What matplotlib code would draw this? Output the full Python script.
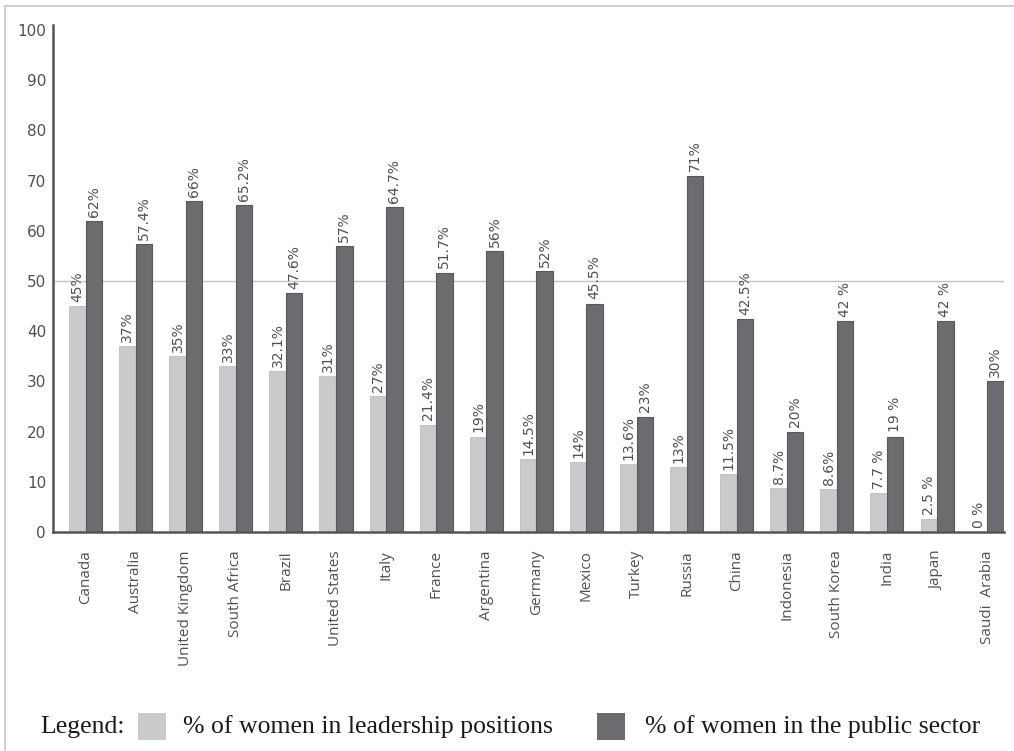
import matplotlib
matplotlib.use("Agg")
import matplotlib.pyplot as plt
from matplotlib.lines import Line2D
from matplotlib.patches import Rectangle
import numpy as np

countries = ["Canada", "Australia", "United Kingdom", "South Africa", "Brazil",
             "United States", "Italy", "France", "Argentina", "Germany", "Mexico",
             "Turkey", "Russia", "China", "Indonesia", "South Korea", "India",
             "Japan", "Saudi  Arabia"]
leadership = [45, 37, 35, 33, 32.1, 31, 27, 21.4, 19, 14.5, 14, 13.6, 13, 11.5,
              8.7, 8.6, 7.7, 2.5, 0]
public_sector = [62, 57.4, 66, 65.2, 47.6, 57, 64.7, 51.7, 56, 52, 45.5, 23, 71,
                 42.5, 20, 42, 19, 42, 30]
leadership_labels = ["45%", "37%", "35%", "33%", "32.1%", "31%", "27%", "21.4%",
                     "19%", "14.5%", "14%", "13.6%", "13%", "11.5%", "8.7%",
                     "8.6%", "7.7 %", "2.5 %", "0 %"]
public_labels = ["62%", "57.4%", "66%", "65.2%", "47.6%", "57%", "64.7%", "51.7%",
                 "56%", "52%", "45.5%", "23%", "71%", "42.5%", "20%", "42 %",
                 "19 %", "42 %", "30%"]
y_ticks = [0, 10, 20, 30, 40, 50, 60, 70, 80, 90, 100]
legend_names = ["% of women in leadership positions", "% of women in the public sector"]

LIGHT = "#c9cacc"
DARK = "#6c6c70"
TEXT = "#505050"

fig = plt.figure(figsize=(10.14, 7.51), dpi=100)
ax = fig.add_axes([0.0523, 0.2916, 0.938, 0.675])

x = np.arange(len(countries))
w = 0.33
ax.bar(x - w / 2, leadership, width=w, color=LIGHT, edgecolor="#bdbec0", linewidth=0.6, zorder=2)
ax.bar(x + w / 2, public_sector, width=w, color=DARK, edgecolor="#58585b", linewidth=0.8, zorder=2)

for xi, v, s in zip(x - w / 2, leadership, leadership_labels):
    ax.annotate(s, (xi, v), xytext=(0, 3), textcoords="offset points",
                rotation=90, ha="center", va="bottom", fontsize=10,
                color=TEXT, family="DejaVu Sans")
for xi, v, s in zip(x + w / 2, public_sector, public_labels):
    ax.annotate(s, (xi, v), xytext=(0, 3), textcoords="offset points",
                rotation=90, ha="center", va="bottom", fontsize=10,
                color=TEXT, family="DejaVu Sans")

# reference line at 50 %
ax.axhline(50, color="#c4c4c4", linewidth=1.0, zorder=1)

ax.set_xlim(-0.649, 18.34)
ax.set_ylim(0, 101)
ax.set_yticks(y_ticks)
ax.set_yticklabels([str(t) for t in y_ticks], fontsize=11, color=TEXT, family="DejaVu Sans")
ax.set_xticks(x)
ax.set_xticklabels(countries, rotation=90, fontsize=11, color=TEXT, family="Open Sans",
                   va="top")
ax.tick_params(axis="both", length=0)
ax.tick_params(axis="x", pad=13)
ax.tick_params(axis="y", pad=5)

for side in ("top", "right"):
    ax.spines[side].set_visible(False)
for side in ("left", "bottom"):
    ax.spines[side].set_color("#555555")
    ax.spines[side].set_linewidth(1.8)
    ax.spines[side].set_zorder(3)

# frame lines along the top and left edges of the figure
fig.add_artist(Line2D([5 / 1014, 1.0], [1 - 6 / 751, 1 - 6 / 751],
                      transform=fig.transFigure, color="#c8c8c8", linewidth=1.2))
fig.add_artist(Line2D([5 / 1014, 5 / 1014], [0.0, 1 - 6 / 751],
                      transform=fig.transFigure, color="#c8c8c8", linewidth=1.2))

# legend row
ly = 1 - 727 / 751
serif = "Liberation Serif"
fs = 18.5
fig.text(40 / 1014, ly, "Legend:", fontsize=fs, family=serif, color="#1a1a1a",
         ha="left", va="center")
fig.add_artist(Rectangle((138 / 1014, 1 - 740 / 751), 28 / 1014, 27 / 751,
                         transform=fig.transFigure, facecolor=LIGHT, edgecolor="none"))
fig.text(183 / 1014, ly, legend_names[0], fontsize=fs, family=serif, color="#1a1a1a",
         ha="left", va="center")
fig.add_artist(Rectangle((597 / 1014, 1 - 740 / 751), 28 / 1014, 27 / 751,
                         transform=fig.transFigure, facecolor=DARK, edgecolor="none"))
fig.text(645 / 1014, ly, legend_names[1], fontsize=fs, family=serif, color="#1a1a1a",
         ha="left", va="center")

fig.savefig("out.png", dpi=100, facecolor="white")
